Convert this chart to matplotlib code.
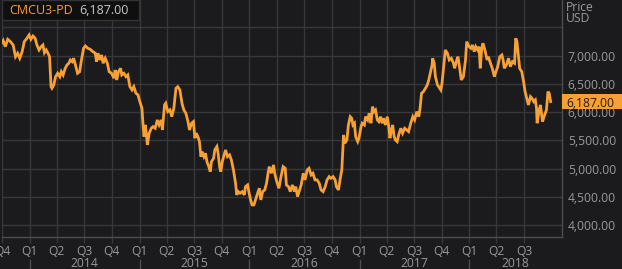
import matplotlib
matplotlib.use("Agg")
import matplotlib.pyplot as plt
import matplotlib.transforms as mtransforms
from matplotlib.patches import Rectangle
from matplotlib.ticker import FuncFormatter
import pandas as pd

ticker_name = "CMCU3-PD"
last_price = 6187.00
axis_title = ["Price", "USD"]
grid_levels = [4000, 4500, 5000, 5500, 6000, 6500, 7000, 7500]
labelled_levels = [4000, 4500, 5000, 5500, 6000, 6500, 7000]
years = [2014, 2015, 2016, 2017, 2018]
x_start, x_end = "2013-10-01", "2018-11-03"
last_quarter = "2018-07-01"
y_low, y_high = 3793, 7982

# LME copper 3M (roughly weekly)
dates = [
    "2013-10-02", "2013-10-05", "2013-10-12", "2013-10-20", "2013-10-29", "2013-11-07", "2013-11-15", "2013-11-22",
    "2013-11-29", "2013-12-07", "2013-12-14", "2013-12-23", "2013-12-30", "2014-01-05", "2014-01-12", "2014-01-19",
    "2014-01-25", "2014-02-01", "2014-02-08", "2014-02-14", "2014-02-19", "2014-02-25", "2014-03-03", "2014-03-08",
    "2014-03-13", "2014-03-16", "2014-03-22", "2014-03-28", "2014-04-04", "2014-04-11", "2014-04-16", "2014-04-22",
    "2014-04-29", "2014-05-05", "2014-05-11", "2014-05-16", "2014-05-22", "2014-05-27", "2014-06-02", "2014-06-09",
    "2014-06-16", "2014-06-22", "2014-06-29", "2014-07-05", "2014-07-13", "2014-07-21", "2014-07-30", "2014-08-07",
    "2014-08-11", "2014-08-16", "2014-08-22", "2014-08-28", "2014-09-02", "2014-09-09", "2014-09-16", "2014-09-22",
    "2014-09-30", "2014-10-08", "2014-10-12", "2014-10-17", "2014-10-23", "2014-10-30", "2014-11-03", "2014-11-10",
    "2014-11-17", "2014-11-23", "2014-11-30", "2014-12-07", "2014-12-13", "2014-12-20", "2014-12-27", "2015-01-02",
    "2015-01-09", "2015-01-13", "2015-01-16", "2015-01-20", "2015-01-24", "2015-01-27", "2015-02-02", "2015-02-09",
    "2015-02-15", "2015-02-22", "2015-03-01", "2015-03-07", "2015-03-14", "2015-03-18", "2015-03-25", "2015-03-29",
    "2015-04-05", "2015-04-12", "2015-04-18", "2015-04-25", "2015-05-02", "2015-05-08", "2015-05-15", "2015-05-22",
    "2015-05-28", "2015-06-04", "2015-06-11", "2015-06-16", "2015-06-23", "2015-06-29", "2015-07-04", "2015-07-08",
    "2015-07-14", "2015-07-19", "2015-07-24", "2015-07-28", "2015-08-03", "2015-08-08", "2015-08-13", "2015-08-19",
    "2015-08-24", "2015-08-28", "2015-09-04", "2015-09-08", "2015-09-15", "2015-09-19", "2015-09-24", "2015-09-28",
    "2015-10-03", "2015-10-09", "2015-10-14", "2015-10-20", "2015-10-27", "2015-11-02", "2015-11-09", "2015-11-16",
    "2015-11-20", "2015-11-25", "2015-12-01", "2015-12-08", "2015-12-15", "2015-12-19", "2015-12-26", "2015-12-30",
    "2016-01-05", "2016-01-10", "2016-01-16", "2016-01-23", "2016-01-30", "2016-02-03", "2016-02-08", "2016-02-14",
    "2016-02-21", "2016-02-27", "2016-03-03", "2016-03-07", "2016-03-14", "2016-03-21", "2016-03-25", "2016-04-01",
    "2016-04-08", "2016-04-14", "2016-04-22", "2016-04-29", "2016-05-03", "2016-05-10", "2016-05-16", "2016-05-23",
    "2016-05-30", "2016-06-03", "2016-06-09", "2016-06-14", "2016-06-21", "2016-06-28", "2016-07-04", "2016-07-11",
    "2016-07-17", "2016-07-24", "2016-07-30", "2016-08-06", "2016-08-13", "2016-08-20", "2016-08-26", "2016-09-02",
    "2016-09-09", "2016-09-15", "2016-09-22", "2016-09-28", "2016-10-05", "2016-10-12", "2016-10-16", "2016-10-23",
    "2016-10-29", "2016-11-03", "2016-11-07", "2016-11-09", "2016-11-13", "2016-11-20", "2016-11-25", "2016-12-01",
    "2016-12-06", "2016-12-10", "2016-12-15", "2016-12-19", "2016-12-26", "2016-12-30", "2017-01-06", "2017-01-10",
    "2017-01-17", "2017-01-21", "2017-01-28", "2017-02-02", "2017-02-08", "2017-02-13", "2017-02-18", "2017-02-23",
    "2017-03-01", "2017-03-06", "2017-03-12", "2017-03-17", "2017-03-21", "2017-03-28", "2017-04-03", "2017-04-08",
    "2017-04-12", "2017-04-17", "2017-04-21", "2017-04-26", "2017-04-30", "2017-05-06", "2017-05-11", "2017-05-18",
    "2017-05-24", "2017-05-31", "2017-06-07", "2017-06-13", "2017-06-20", "2017-06-27", "2017-07-03", "2017-07-10",
    "2017-07-17", "2017-07-21", "2017-07-26", "2017-08-01", "2017-08-08", "2017-08-14", "2017-08-19", "2017-08-25",
    "2017-08-30", "2017-09-01", "2017-09-06", "2017-09-10", "2017-09-17", "2017-09-21", "2017-09-28", "2017-10-02",
    "2017-10-07", "2017-10-13", "2017-10-20", "2017-10-26", "2017-11-02", "2017-11-09", "2017-11-13", "2017-11-20",
    "2017-11-24", "2017-11-29", "2017-12-05", "2017-12-12", "2017-12-19", "2017-12-23", "2017-12-31", "2018-01-06",
    "2018-01-11", "2018-01-17", "2018-01-22", "2018-01-28", "2018-02-02", "2018-02-06", "2018-02-11", "2018-02-15",
    "2018-02-20", "2018-02-24", "2018-03-01", "2018-03-05", "2018-03-12", "2018-03-18", "2018-03-25", "2018-03-30",
    "2018-04-05", "2018-04-12", "2018-04-19", "2018-04-23", "2018-04-27", "2018-05-04", "2018-05-11", "2018-05-17",
    "2018-05-24", "2018-05-31", "2018-06-04", "2018-06-08", "2018-06-13", "2018-06-17", "2018-06-24", "2018-06-30",
    "2018-07-05", "2018-07-12", "2018-07-16", "2018-07-23", "2018-07-28", "2018-08-03", "2018-08-08", "2018-08-12",
    "2018-08-14", "2018-08-21", "2018-08-25", "2018-09-01", "2018-09-06", "2018-09-10", "2018-09-14", "2018-09-19",
    "2018-09-23", "2018-09-28",
]
prices = [
    7230, 7263, 7157, 7288, 7246, 7187, 6980, 7040,
    6952, 7069, 7246, 7306, 7364, 7288, 7346, 7306,
    7187, 7099, 7157, 7187, 7051, 7099, 7040, 6980,
    6450, 6422, 6480, 6627, 6687, 6627, 6715, 6657,
    6775, 6834, 6864, 6922, 6892, 6952, 6834, 6687,
    6715, 6922, 7129, 7170, 7129, 7111, 7069, 7040,
    6892, 7040, 6922, 7010, 6864, 6952, 6864, 6715,
    6687, 6599, 6745, 6569, 6715, 6775, 6657, 6687,
    6627, 6657, 6450, 6392, 6450, 6334, 6304, 6185,
    6069, 5744, 5567, 5774, 5597, 5420, 5627, 5715,
    5744, 5715, 5862, 5774, 5862, 5685, 6127, 6157,
    6009, 6039, 5920, 6069, 6422, 6450, 6392, 6157,
    6039, 5980, 5832, 5685, 5804, 5832, 5539, 5627,
    5567, 5479, 5213, 5302, 5213, 5273, 5125, 5037,
    4948, 5125, 5185, 5332, 5391, 5273, 5037, 4948,
    5125, 5244, 5332, 5213, 5244, 5155, 4978, 4743,
    4537, 4595, 4567, 4595, 4537, 4683, 4713, 4595,
    4448, 4360, 4360, 4478, 4595, 4654, 4448, 4595,
    4625, 4743, 4920, 5037, 4920, 5067, 4920, 4772,
    4654, 4831, 5037, 5008, 4713, 4683, 4595, 4713,
    4595, 4683, 4507, 4595, 4713, 4920, 4802, 4978,
    5008, 4890, 4920, 4802, 4802, 4743, 4625, 4595,
    4683, 4802, 4860, 4831, 4860, 4802, 4683, 4625,
    4831, 4978, 5391, 5597, 5450, 5509, 5774, 5920,
    5892, 5774, 5804, 5567, 5479, 5539, 5744, 5804,
    5774, 5920, 5862, 5980, 5804, 6097, 6009, 6039,
    5862, 5832, 5920, 5804, 5892, 5774, 5920, 5744,
    5539, 5685, 5774, 5567, 5509, 5479, 5597, 5715,
    5627, 5715, 5685, 5656, 5804, 5920, 5862, 6009,
    5920, 6069, 6334, 6362, 6422, 6480, 6569, 6715,
    6834, 6952, 6864, 6627, 6480, 6450, 6392, 6510,
    6775, 7099, 7040, 6922, 6952, 6864, 6775, 6922,
    6980, 6804, 6569, 6627, 6922, 7246, 7157, 7129,
    7187, 7069, 7157, 7099, 7157, 6775, 7129, 7217,
    7129, 7040, 6922, 6980, 6864, 6775, 6627, 6715,
    6804, 6980, 7010, 6922, 6775, 6834, 6952, 6804,
    6892, 6864, 7306, 7246, 6980, 6775, 6715, 6539,
    6362, 6215, 6127, 6274, 6245, 6185, 6215, 6069,
    5804, 6039, 6127, 5832, 5920, 5980, 6039, 6362,
    6334, 6187,
]

BG = "#1b1b1d"
GRID = "#38383a"
SPINE = "#4e4e50"
TEXT = "#9a9a9a"
ORANGE = "#f7a035"
FONT = "Open Sans"

W, H = 622, 269
fig = plt.figure(figsize=(W / 100, H / 100), dpi=100, facecolor=BG)
ax = fig.add_axes([2 / W, 32 / H, 559.5 / W, 237 / H], facecolor=BG)

x = pd.to_datetime(dates)
ax.plot(x, prices, color=ORANGE, lw=2.0, solid_joinstyle="miter", zorder=3)

ax.set_xlim(pd.Timestamp(x_start), pd.Timestamp(x_end))
ax.set_ylim(y_low, y_high)

# grid
quarters = pd.date_range(x_start, last_quarter, freq="QS")
ax.set_xticks(quarters)
ax.set_xticklabels([])
ax.set_yticks(grid_levels)
ax.yaxis.set_major_formatter(
    FuncFormatter(lambda v, _: f"{v:,.2f}" if v in labelled_levels else "")
)
ax.yaxis.tick_right()
ax.grid(True, color=GRID, lw=1)
ax.tick_params(axis="x", length=4.3, width=1, color=GRID, direction="out")
ax.tick_params(axis="y", length=0, pad=4.5, labelcolor=TEXT, labelsize=8.7)
for lbl in ax.get_yticklabels():
    lbl.set_fontfamily(FONT)

for side in ["top", "left"]:
    ax.spines[side].set_visible(False)
for side in ["right", "bottom"]:
    ax.spines[side].set_color(SPINE)
    ax.spines[side].set_linewidth(1)

# quarter and year labels below the axis
xtrans = ax.get_xaxis_transform()
for q in quarters:
    ax.text(q, -0.077, f"Q{q.quarter}", transform=xtrans, ha="center", va="baseline",
            color=TEXT, fontsize=8.7, fontfamily=FONT, clip_on=False)

end = pd.Timestamp(x_end)
for yr in years:
    start = pd.Timestamp(f"{yr}-01-01")
    stop = min(pd.Timestamp(f"{yr + 1}-01-01"), end)
    mid = start + (stop - start) / 2
    ax.text(mid, -0.125, str(yr), transform=xtrans, ha="center", va="baseline",
            color=TEXT, fontsize=8.7, fontfamily=FONT, clip_on=False)
    ax.plot([start, start], [-0.097, -0.14], transform=xtrans, color=SPINE,
            lw=1, clip_on=False)

# axis title on the right
fig.text(566 / W, 1 - 11 / H, axis_title[0], ha="left", va="baseline", color=TEXT,
         fontsize=8.7, fontfamily=FONT)
fig.text(566 / W, 1 - 22 / H, axis_title[1], ha="left", va="baseline", color=TEXT,
         fontsize=8.7, fontfamily=FONT)

# last price tag
tag_trans = mtransforms.blended_transform_factory(fig.transFigure, ax.transData)
half = 7.5 / 237 * (y_high - y_low)
fig.add_artist(Rectangle((562 / W, last_price - half), 1 - 562 / W, 2 * half,
                         transform=tag_trans, facecolor=ORANGE, edgecolor="none",
                         zorder=5))
fig.text(566 / W, last_price, f"{last_price:,.2f}", transform=tag_trans,
         ha="left", va="center_baseline", color="#2a1a08", fontsize=8.7,
         fontfamily=FONT, zorder=6)

# legend box top-left
fig.add_artist(Rectangle((2 / W, 1 - 20 / H), 137 / W, 20 / H, transform=fig.transFigure,
                         facecolor="#0f0f10", edgecolor="#333335", lw=1, zorder=5))
fig.text(9 / W, 1 - 14.3 / H, ticker_name, ha="left", va="baseline", color=ORANGE,
         fontsize=9, fontfamily=FONT, zorder=6)
fig.text(79 / W, 1 - 14.3 / H, f"{last_price:,.2f}", ha="left", va="baseline",
         color="#c8c8c8", fontsize=9, fontfamily=FONT, zorder=6)

fig.savefig("out.png", dpi=100, facecolor=BG)
